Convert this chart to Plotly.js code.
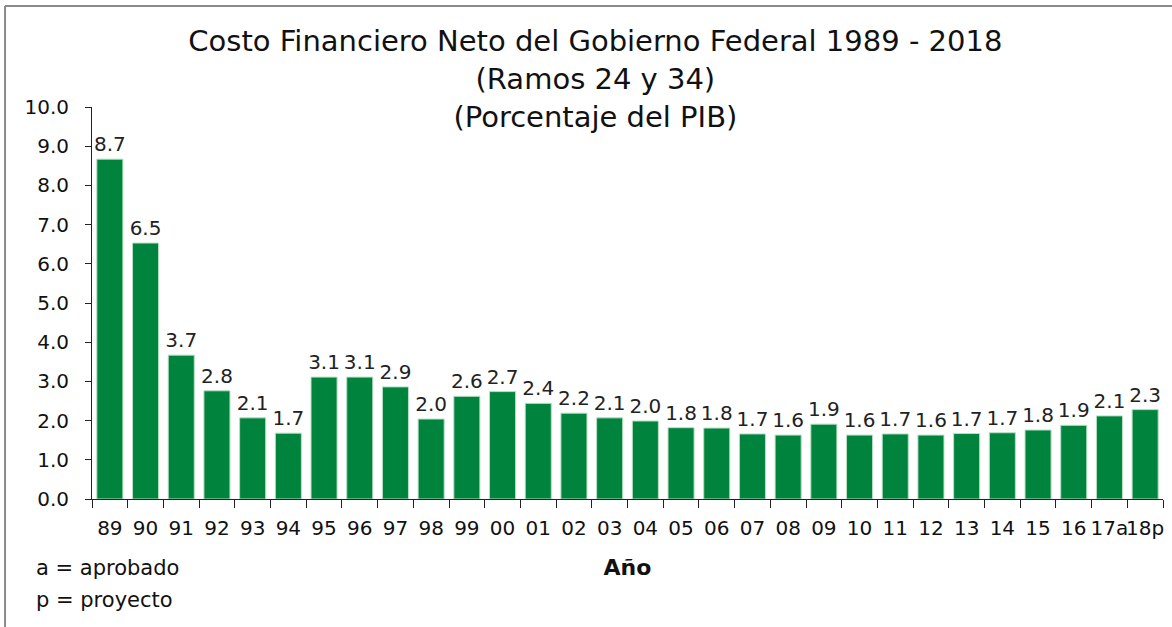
<!DOCTYPE html>
<html>
<head>
<meta charset="utf-8">
<script src="https://cdn.plot.ly/plotly-3.0.1.min.js"></script>
<style>html,body{margin:0;padding:0;background:#fff;}#chart{width:1172px;height:627px;}</style>
</head>
<body>
<div id="chart"></div>
<script>
const years = ["89","90","91","92","93","94","95","96","97","98","99","00","01","02","03","04","05","06","07","08","09","10","11","12","13","14","15","16","17a","18p"];
const costo = [8.67,6.53,3.67,2.76,2.07,1.68,3.11,3.11,2.86,2.04,2.62,2.74,2.44,2.19,2.07,1.99,1.82,1.81,1.66,1.63,1.91,1.63,1.66,1.63,1.67,1.69,1.76,1.88,2.12,2.28];
const labels = ["8.7","6.5","3.7","2.8","2.1","1.7","3.1","3.1","2.9","2.0","2.6","2.7","2.4","2.2","2.1","2.0","1.8","1.8","1.7","1.6","1.9","1.6","1.7","1.6","1.7","1.7","1.8","1.9","2.1","2.3"];

const FONT = "DejaVu Sans, Liberation Sans, sans-serif";
const trace = {
  type: "bar",
  x: years,
  y: costo,
  text: labels,
  textposition: "outside",
  constraintext: "none",
  cliponaxis: false,
  textfont: {family: FONT, size: 20, color: "#222"},
  marker: {color: "#00843D", line: {color: "#b8dfc4", width: 1}},
  hoverinfo: "x+y"
};

const layout = {
  width: 1172, height: 627,
  paper_bgcolor: "#fff", plot_bgcolor: "#fff",
  margin: {l: 92, r: 9, t: 107, b: 128},
  font: {family: FONT, color: "#111"},
  bargap: 0.27,
  showlegend: false,
  title: {
    text: "Costo Financiero Neto del Gobierno Federal 1989 - 2018<br>(Ramos 24 y 34)<br>(Porcentaje del PIB)",
    font: {family: FONT, size: 29, color: "#111"},
    x: 0.508, xanchor: "center",
    y: 0.918, yanchor: "top"
  },
  xaxis: {
    type: "category",
    showline: true, linecolor: "#222", linewidth: 1,
    ticks: "outside", ticklen: 8, tickcolor: "#222", tickson: "boundaries",
    tickangle: 0, ticklabelstandoff: 11,
    tickfont: {family: FONT, size: 20, color: "#111"},
    title: {text: "<b>Año</b>", font: {family: FONT, size: 22, color: "#111"}, standoff: 20},
    showgrid: false, zeroline: false
  },
  yaxis: {
    range: [0, 10], dtick: 1, tick0: 0, tickformat: ".1f",
    showline: true, linecolor: "#222", linewidth: 1,
    ticks: "outside", ticklen: 6, tickcolor: "#222", ticklabelstandoff: 12,
    tickfont: {family: FONT, size: 20, color: "#111"},
    showgrid: false, zeroline: false
  },
  annotations: [
    {text: "a = aprobado", xref: "paper", yref: "paper", x: -0.054, y: -0.176, xanchor: "left", yanchor: "middle", showarrow: false, font: {family: FONT, size: 21, color: "#111"}},
    {text: "p = proyecto", xref: "paper", yref: "paper", x: -0.054, y: -0.258, xanchor: "left", yanchor: "middle", showarrow: false, font: {family: FONT, size: 21, color: "#111"}}
  ],
  shapes: [
    {type: "line", xref: "paper", yref: "paper", x0: -0.0812, x1: 1.01, y0: 1.2577, y1: 1.2577, line: {color: "#8a8a8a", width: 2}},
    {type: "line", xref: "paper", yref: "paper", x0: -0.0812, x1: -0.0812, y0: 1.2577, y1: -0.33, line: {color: "#8a8a8a", width: 2}}
  ]
};

Plotly.newPlot("chart", [trace], layout, {displayModeBar: false, staticPlot: true});
</script>
</body>
</html>
